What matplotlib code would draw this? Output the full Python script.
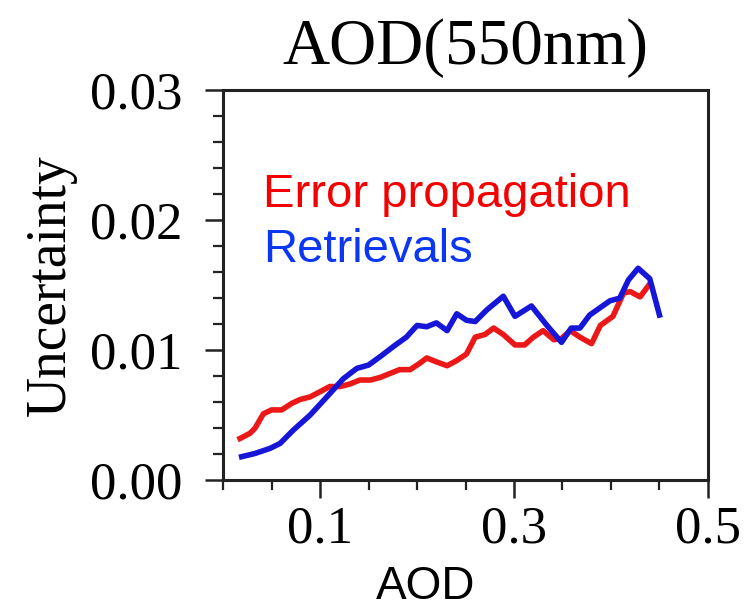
import matplotlib.pyplot as plt
from matplotlib.ticker import MultipleLocator, FixedLocator

# AOD bins and the two uncertainty curves
aod_err = [0.0175, 0.0278, 0.033, 0.0416, 0.050, 0.0605, 0.0708, 0.0794, 0.0897, 0.100,
           0.110, 0.121, 0.131, 0.141, 0.152, 0.162, 0.172, 0.182, 0.193, 0.203,
           0.210, 0.220, 0.231, 0.241, 0.251, 0.260, 0.270, 0.279, 0.289, 0.301,
           0.311, 0.320, 0.330, 0.341, 0.349, 0.358, 0.368, 0.380, 0.389, 0.402,
           0.413, 0.420, 0.430, 0.440]
unc_err = [0.0032, 0.0036, 0.0040, 0.0051, 0.0054, 0.0054, 0.0059, 0.0062, 0.0064, 0.0068,
           0.0072, 0.0072, 0.0074, 0.0077, 0.0077, 0.0079, 0.0082, 0.0085, 0.0085, 0.0090,
           0.0094, 0.0091, 0.0088, 0.0092, 0.0097, 0.0110, 0.0112, 0.0117, 0.0112, 0.0104,
           0.0104, 0.0110, 0.0115, 0.0108, 0.0109, 0.0115, 0.0110, 0.0105, 0.0119, 0.0126,
           0.0144, 0.0145, 0.0141, 0.0151]

aod_ret = [0.0192, 0.033, 0.0485, 0.0588, 0.0725, 0.0897, 0.107, 0.124, 0.138, 0.150,
           0.162, 0.176, 0.189, 0.200, 0.210, 0.220, 0.231, 0.241, 0.251, 0.260,
           0.272, 0.289, 0.301, 0.318, 0.334, 0.349, 0.359, 0.368, 0.378, 0.399,
           0.409, 0.418, 0.428, 0.440, 0.450]
unc_ret = [0.0018, 0.00205, 0.00244, 0.00282, 0.00385, 0.0050, 0.0064, 0.0078, 0.0086, 0.00885,
           0.0095, 0.0103, 0.0110, 0.0119, 0.0118, 0.0121, 0.0115, 0.0128, 0.0123, 0.0122,
           0.0131, 0.01415, 0.0126, 0.0134, 0.0119, 0.0106, 0.0117, 0.0117, 0.0127, 0.0138,
           0.0140, 0.0154, 0.0163, 0.0155, 0.0127]

xticks = [0.1, 0.3, 0.5]
yticks = [0.0, 0.01, 0.02, 0.03]
ytick_labels = ['0.00', '0.01', '0.02', '0.03']

serif = 'Liberation Serif'
sans = 'Liberation Sans'
red_line, blue_line = '#ec1818', '#1616d8'
red_text, blue_text = '#f40000', '#0a36f4'

fig = plt.figure(figsize=(7.46, 6.10), dpi=100)
ax = fig.add_axes([0.299, 0.213, 0.650, 0.639])

ax.plot(aod_err, unc_err, color=red_line, lw=4, solid_joinstyle='round')
ax.plot(aod_ret, unc_ret, color=blue_line, lw=4, solid_joinstyle='round')

ax.set_xlim(0, 0.5)
ax.set_ylim(0, 0.03)

ax.xaxis.set_major_locator(FixedLocator(xticks))
ax.xaxis.set_minor_locator(FixedLocator([0.0, 0.05, 0.15, 0.2, 0.25, 0.35, 0.4, 0.45]))
ax.set_xticklabels([str(t) for t in xticks])
ax.set_yticks(yticks)
ax.set_yticklabels(ytick_labels)
ax.yaxis.set_minor_locator(MultipleLocator(0.002))

ax.tick_params(which='major', direction='out', length=13, width=1.8, color='#222222',
               labelsize=38, top=False, right=False)
ax.tick_params(which='minor', direction='out', length=7, width=1.6, color='#222222',
               top=False, right=False)
ax.tick_params(axis='y', which='major', pad=16)
ax.tick_params(axis='x', which='major', pad=5)
for lab in ax.get_xticklabels() + ax.get_yticklabels():
    lab.set_fontfamily(serif)
for s in ax.spines.values():
    s.set_linewidth(2.2)
    s.set_color('#222222')

ax.set_title('AOD(550nm)', fontfamily=serif, fontsize=47, pad=19)
ax.set_ylabel('Uncertainty', fontfamily=serif, fontsize=40, labelpad=10)
fig.text(426 / 746, 1 / 610, 'AOD', fontfamily=sans, fontsize=33,
         ha='center', va='bottom')

ax.text(0.0412, 0.0210, 'Error propagation', color=red_text, fontfamily=sans,
        fontsize=34, va='baseline')
ax.text(0.0412, 0.01677, 'Retrievals', color=blue_text, fontfamily=sans,
        fontsize=34, va='baseline')

fig.savefig('out.png', dpi=100)
